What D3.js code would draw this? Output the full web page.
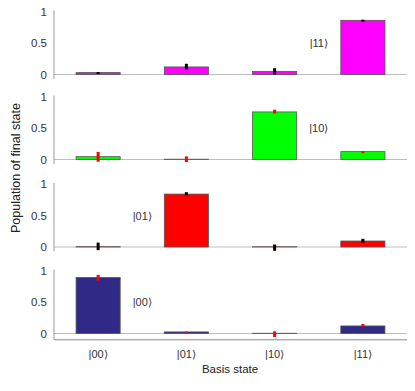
<!DOCTYPE html>
<html>
<head>
<meta charset="utf-8">
<script src="https://cdn.jsdelivr.net/npm/d3@7"></script>
<style>
body{margin:0;background:#fff;}
text{font-family:"Liberation Sans",Arial,sans-serif;}
</style>
</head>
<body>
<div id="chart"></div>
<script>
// basis states on the x axis
var states=["|00\u27E9","|01\u27E9","|10\u27E9","|11\u27E9"];
// one row per prepared state, top to bottom
var prepared=["|11\u27E9","|10\u27E9","|01\u27E9","|00\u27E9"];
var barColors=["#ff00ff","#00ff00","#ff0000","#302a86"];
var errColors=["#000000","#ff0000","#000000","#ff0000"];
var pop11=[0.03,0.12,0.05,0.86];
var pop10=[0.045,0.005,0.755,0.125];
var pop01=[0.005,0.84,0.004,0.095];
var pop00=[0.89,0.025,0.004,0.12];
var err11=[[0.02,0.04],[0.08,0.17],[0.0,0.1],[0.84,0.87]];
var err10=[[-0.035,0.12],[-0.04,0.05],[0.73,0.79],[0.12,0.13]];
var err01=[[-0.05,0.07],[0.82,0.87],[-0.06,0.04],[0.07,0.13]];
var err00=[[0.84,0.93],[0.02,0.03],[-0.055,0.035],[0.11,0.15]];
var yTicks=[0,0.5,1];

var pops=[pop11,pop10,pop01,pop00];
var errs=[err11,err10,err01,err00];

var W=415,H=391;
var svg=d3.select("#chart").append("svg").attr("width",W).attr("height",H);

var x=d3.scaleBand().domain(states).range([54,407]).paddingInner(0.5).paddingOuter(0.25);
var panelTop=[11.5,96.5,184,270.5];
var unit=63;

pops.forEach(function(vals,p){
	var y=d3.scaleLinear().domain([-0.1,1]).range([panelTop[p]+1.1*unit,panelTop[p]]);
	var g=svg.append("g");
	// zero line
	g.append("line").attr("x1",54).attr("x2",407).attr("y1",y(0)).attr("y2",y(0))
		.attr("stroke","#bdbdbd").attr("stroke-width",1.2);
	var ax=g.append("g").attr("transform","translate(54,0)")
		.call(d3.axisLeft(y).tickValues(yTicks).tickSize(0).tickPadding(7).tickFormat(d3.format("")));
	ax.select(".domain").attr("stroke","#999").attr("d","M0,"+(y(1)-1)+"V"+(p==3?y(-0.1):y(-0.07)));
	ax.selectAll("text").attr("font-size",11.5).attr("fill","#333").attr("font-family","Liberation Sans, Arial, sans-serif");
	g.selectAll("rect.bar").data(vals).enter().append("rect").attr("class","bar")
		.attr("x",function(d,i){return x(states[i]);})
		.attr("width",x.bandwidth())
		.attr("y",function(d){return y(Math.max(d,0));})
		.attr("height",function(d){return Math.abs(y(d)-y(0));})
		.attr("fill",barColors[p]).attr("stroke","#555").attr("stroke-width",0.8);
	g.selectAll("rect.err").data(errs[p]).enter().append("rect").attr("class","err")
		.attr("x",function(d,i){return x(states[i])+x.bandwidth()/2-1.5;})
		.attr("width",3)
		.attr("y",function(d){return y(d[1]);})
		.attr("height",function(d){return Math.max(y(d[0])-y(d[1]),2);})
		.attr("fill",errColors[p]);
	// state label
	var lx=(p<2)?x(states[3])-22:x(states[1])-22;
	g.append("text").attr("x",lx).attr("y",y(0.5)+4).attr("text-anchor","middle")
		.attr("font-size",11).attr("fill","#333").text(prepared[p]);
	if(p==3){
		var xa=svg.append("g").attr("transform","translate(0,"+y(-0.1)+")")
			.call(d3.axisBottom(x).tickSize(0).tickPadding(10));
		xa.select(".domain").attr("stroke","#888").attr("d","M54,0H407");
		xa.selectAll("text").attr("font-size",11).attr("fill","#333").attr("font-family","Liberation Sans, Arial, sans-serif");
	}
});

svg.append("text").attr("x",230).attr("y",373).attr("text-anchor","middle")
	.attr("font-size",11.5).attr("fill","#222").text("Basis state");
svg.append("text").attr("transform","translate(20,168) rotate(-90)").attr("text-anchor","middle")
	.attr("font-size",12.5).attr("fill","#222").text("Population of final state");
</script>
</body>
</html>
